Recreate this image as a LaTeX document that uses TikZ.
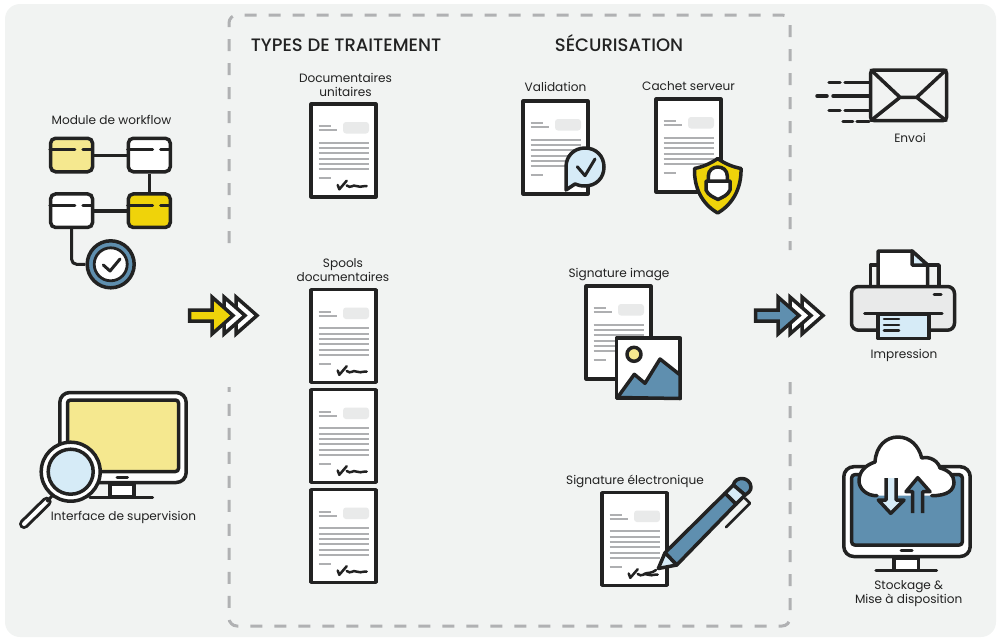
\documentclass[tikz,border=0pt]{standalone}
\usepackage{fontspec}
\setmainfont{Poppins}
\newfontfamily\headfont{Poppins Medium}
\definecolor{inkdark}{HTML}{222222}
\definecolor{panelgrey}{HTML}{F1F3F2}
\definecolor{dashgrey}{HTML}{B0B1B3}
\definecolor{linegrey}{HTML}{AEAFB1}
\definecolor{pillgrey}{HTML}{E9EAEA}
\definecolor{softyellow}{HTML}{F5E88F}
\definecolor{deepyellow}{HTML}{EFD30A}
\definecolor{steelblue}{HTML}{5F8FAF}
\definecolor{paleblue}{HTML}{D6EBF7}
\tikzset{
  ink/.style={draw=inkdark,line width=3.5pt,line join=round},
  caption/.style={font=\fontsize{12.1}{14}\selectfont,text=inkdark,align=center,inner sep=0pt},
  heading/.style={font=\headfont\fontsize{18}{20}\selectfont,text=inkdark,inner sep=0pt,anchor=base},
  wfbox/.style={draw=inkdark,line width=3.5pt,rounded corners=5pt,minimum width=42pt,minimum height=33.5pt,inner sep=0pt},
  wfline/.style={draw=inkdark,line width=3pt},
  docsheet/.pic={
    \draw[ink,fill=white] (1.2,1.2) rectangle (65.8,93.8);
    \draw[linegrey,line width=2pt] (8.7,23) -- (21,23) (8.7,27.3) -- (26.7,27.3) (8.7,75) -- (21,75);
    \foreach \yy in {39.7,45,50.3,55.7,61,66.3}
      \draw[linegrey,line width=2pt] (8.7,\yy) -- (59,\yy);
    \fill[pillgrey,rounded corners=3pt] (33,19) rectangle (59,30.5);
  },
  signeddoc/.pic={
    \pic {docsheet};
    \draw[inkdark,line width=2.5pt,line cap=round,line join=round] (27.7,82) -- (29.3,86.3) -- (36.7,77.7);
    \draw[inkdark,line width=2.5pt,line cap=round] (36.7,82.5) .. controls (41,86) and (43,81) .. (46,83) .. controls (49,85) and (51,83) .. (56.7,83);
  },
  tripletip/.pic={
    \begin{scope}[line join=miter]
    \draw[draw=inkdark,line width=3.5pt,fill=white] (24,-18.5) -- (45,0) -- (24,18.5) -- cycle;
    \draw[draw=inkdark,line width=3.5pt,fill=white] (12,-18.5) -- (33,0) -- (12,18.5) -- cycle;
    \draw[draw=inkdark,line width=3.5pt,fill=\pgfkeysvalueof{/tikz/tipcolor}] (-22.5,-5.5) -- (0,-5.5) -- (0,-18.5) -- (21,0) -- (0,18.5) -- (0,5.5) -- (-22.5,5.5) -- cycle;
    \end{scope}
  },
  tipcolor/.initial=deepyellow
}
\begin{document}
\begin{tikzpicture}[x=1pt,y=-1pt]
  \useasboundingbox (0,0) rectangle (1000,641);
  \fill[panelgrey,rounded corners=15pt] (5,4) rectangle (996,637);

  \draw[dashgrey,line width=3pt,dash pattern=on 12pt off 12pt,rounded corners=8pt]
    (229,243) -- (229,15) -- (790,15) -- (790,250);
  \draw[dashgrey,line width=3pt,dash pattern=on 12pt off 12pt,rounded corners=8pt]
    (790,382) -- (790,626) -- (229,626) -- (229,387);

  \node[heading] (traitement) at (346,51) {TYPES DE TRAITEMENT};
  \node[heading] (securisation) at (619,51) {SÉCURISATION};

  \node[caption] (workflow) at (111.5,119.7) {Module de workflow};
  \node[caption] (supervision) at (123.5,517) {Interface de supervision};
  \node[caption] (unitaires) at (345.5,85) {Documentaires\\unitaires};
  \node[caption] (spools) at (343,270) {Spools\\documentaires};
  \node[caption] (validation) at (555.5,86.5) {Validation};
  \node[caption] (cachet) at (688.5,86.5) {Cachet serveur};
  \node[caption] (sigimage) at (619,274.5) {Signature image};
  \node[caption] (sigelec) at (635,481) {Signature électronique};
  \node[caption] (envoi) at (910,138) {Envoi};
  \node[caption] (impression) at (904,355.5) {Impression};
  \node[caption] (stockage) at (908.7,593.5) {Stockage \&\\Mise à disposition};

  % workflow
  \node[wfbox,fill=softyellow] (wf1) at (71.6,155) {};
  \node[wfbox,fill=white] (wf2) at (149.3,155) {};
  \node[wfbox,fill=white] (wf3) at (71.6,210.7) {};
  \node[wfbox,fill=deepyellow] (wf4) at (149.3,210.7) {};
  \node[circle,draw=inkdark,line width=3.5pt,fill=steelblue,minimum size=47pt,inner sep=0pt] (wfend) at (110.7,264.3) {};
  \node[circle,draw=inkdark,line width=2.8pt,fill=white,minimum size=33pt,inner sep=0pt] (wfcheck) at (110.7,264.3) {};
  \draw[wfline] (wf1) -- (wf2);
  \draw[wfline] (wf2) -- (wf4);
  \draw[wfline,line width=3.6pt] (wf3) -- (wf4);
  \draw[wfline,rounded corners=5pt] (wf3) |- (wfend);
  \foreach \wfname in {wf1,wf2,wf3,wf4}
    \draw[wfline,line cap=round] ([yshift=-13.3pt]\wfname.north west) ++(1,0) -- ++(25,0) ++(8,0) -- ([xshift=-2pt,yshift=-13.3pt]\wfname.north east);
  \draw[inkdark,line width=3pt,line cap=round,line join=round] (103.3,265) -- (110,271) -- (120,259);

  % supervision screen
  \draw[ink,fill=white,rounded corners=10pt] (59.8,392.5) rectangle (186.2,482.5);
  \draw[ink,fill=softyellow,rounded corners=3pt] (67.5,400) rectangle (178.5,471.5);
  \draw[inkdark,line width=3pt,line cap=round] (117,477.5) -- (127.5,477.5);
  \draw[ink,fill=white] (110,484) rectangle (134,497);
  \draw[inkdark,line width=3.2pt,line cap=round] (90,497.5) -- (152.5,497.5);
  \draw[inkdark,line width=10pt,line cap=round] (46.7,501.7) -- (24,524);
  \draw[white,line width=4pt,line cap=round] (46.7,501.7) -- (24,524);
  \draw[inkdark,line width=3pt] (46.7,501.7) -- (52,496);
  \draw[ink,fill=white] (70.7,471.7) circle[radius=29.5];
  \draw[ink,fill=paleblue] (70.7,471.7) circle[radius=22.5];

  % documents
  \pic at (310,103) {signeddoc};
  \pic at (310,288.5) {signeddoc};
  \pic at (310,388.5) {signeddoc};
  \pic at (310,488.5) {signeddoc};
  \pic at (522,100) {docsheet};
  \pic at (655,98) {docsheet};
  \pic at (585,285) {docsheet};
  \pic at (601,491.5) {signeddoc};

  % validation bubble
  \draw[ink,fill=paleblue] (566,190) -- (566,167) .. controls (566,156) and (574,148) .. (585,148)
    .. controls (596,148) and (604,156) .. (604,167) .. controls (604,178) and (596,186) .. (585,186)
    .. controls (580,186) and (578,185) .. (575,184) -- cycle;
  \draw[inkdark,line width=3pt,line cap=round,line join=round] (577.3,166.7) -- (585,175.7) -- (595,159);

  % shield
  \draw[ink,fill=deepyellow] (717.7,158.5) .. controls (710,164) and (702,167) .. (694.5,168.5)
    .. controls (694,188) and (702,204) .. (717.7,213) .. controls (733,204) and (741.5,188) .. (741,168.5)
    .. controls (733.5,167) and (725,164) .. (717.7,158.5) -- cycle;
  \draw[ink,fill=white] (708.3,182) -- (708.3,176) .. controls (708.3,164) and (727.3,164) .. (727.3,176) -- (727.3,182) -- cycle;
  \draw[ink,fill=white] (706,181) -- (730,181) -- (730,190) .. controls (728,195) and (723,197) .. (718,199.5)
    .. controls (713,197) and (708,195) .. (706,190) -- cycle;

  % image signature
  \draw[ink,fill=white] (616.5,338.2) rectangle (680.2,398.5);
  \draw[ink,fill=steelblue] (617.5,397.5) -- (634.3,374.3) -- (645,383.3) -- (660,359) -- (680.2,375) -- (680.2,398.5) -- cycle;
  \draw[ink,fill=softyellow] (634,354.3) circle[radius=7];

  % pen
  \draw[inkdark,line width=2.6pt,line join=round,line cap=round] (745,498.3) -- (750,503.3) -- (726,527.3);
  \draw[ink,fill=steelblue] (733.3,485) .. controls (735,476) and (750,476) .. (751,487) .. controls (751,491) and (748,493) .. (745,495) -- cycle;
  \draw[ink,fill=paleblue] (725,493.3) -- (733.3,485) -- (745,495) -- (736,504) -- cycle;
  \draw[ink,fill=steelblue] (665,552.7) -- (725,493.3) -- (736,504) -- (676.7,565) -- cycle;
  \draw[ink,fill=paleblue] (665,552.7) -- (676.7,565) -- (658.3,568.5) -- cycle;
  \draw[inkdark,line width=2.5pt,line cap=round] (656,570) .. controls (651,574) and (648,572) .. (644,574);

  % envoi
  \draw[ink,rounded corners=3pt] (870.7,70) rectangle (946.5,120.5);
  \draw[inkdark,line width=3.5pt,line cap=round] (871,70) -- (900,97.3) -- (871,120.5) (946,70) -- (916.7,97.3) -- (946,120.5) (900,97.3) -- (916.7,97.3);
  \draw[inkdark,line width=3.5pt,line cap=round]
    (829,82.7) -- (840,82.7) (845,82.7) -- (869,82.7)
    (817,96) -- (827,96) (833,96) -- (869,96)
    (829,110.3) -- (840,110.3) (845,110.3) -- (869,110.3)
    (843,121.7) -- (852.7,121.7) (857,121.7) -- (869,121.7);

  % printer
  \draw[ink,fill=panelgrey] (870.5,285) -- (870.5,265) -- (939,265) -- (939,285);
  \draw[ink,fill=white] (878,285) -- (878,251) -- (912,251) -- (927.5,265) -- (927.5,285);
  \draw[ink,fill=paleblue] (912,251) -- (912,265) -- (927.5,265) -- cycle;
  \draw[ink,fill=pillgrey,rounded corners=7pt] (851.5,286.5) rectangle (954.5,330.2);
  \draw[inkdark,line width=3pt,line cap=round] (864.5,313.3) -- (942,313.3);
  \draw[inkdark,line width=3pt,line cap=round] (934,294.5) -- (941,294.5);
  \draw[ink,fill=paleblue] (878,314) rectangle (929,338.5);
  \draw[inkdark,line width=2.6pt,line cap=round] (884,319) -- (899,319) (884,325) -- (899,325) (884,330.7) -- (899,330.7);

  % storage
  \draw[ink,fill=white,rounded corners=10pt] (843.8,466.7) rectangle (970.2,556.5);
  \draw[ink,fill=steelblue,rounded corners=3pt] (851.7,474.7) rectangle (962.3,545);
  \draw[inkdark,line width=3pt,line cap=round] (901,550.7) -- (912,550.7);
  \draw[ink,fill=white] (894,558) rectangle (918.3,570.7);
  \draw[inkdark,line width=3.2pt,line cap=round] (876,570.7) -- (936.5,570.7);
  \fill[white] (877,495.7) .. controls (866,496) and (859,488) .. (859,481) .. controls (859,471) and (866,465) .. (875,462)
    .. controls (876,446) and (886,437) .. (898,437) .. controls (910,437) and (919,446) .. (921.7,458)
    .. controls (930,456) and (938,461) .. (940,468) .. controls (948,470) and (954,475) .. (954,482)
    .. controls (954,490) and (948,495.7) .. (941.7,495.7) -- cycle;
  \draw[ink,line cap=round] (877,495.7) .. controls (866,496) and (859,488) .. (859,481) .. controls (859,471) and (866,465) .. (875,462)
    .. controls (876,446) and (886,437) .. (898,437) .. controls (910,437) and (919,446) .. (921.7,458)
    .. controls (930,456) and (938,461) .. (940,468) .. controls (948,470) and (954,475) .. (954,482)
    .. controls (954,490) and (948,495.7) .. (931.7,495.7);
  \draw[ink,fill=paleblue] (886,478) -- (886,500) -- (878.3,500) -- (890.7,513.3) -- (904,500) -- (896,500) -- (896,478);
  \draw[ink,fill=steelblue] (912.7,513) -- (912.7,491.7) -- (906,491.7) -- (917.7,477.7) -- (930,491.7) -- (922.7,491.7) -- (922.7,513);

  % arrows
  \pic[tipcolor=deepyellow] at (212,315.5) {tripletip};
  \pic[tipcolor=steelblue] at (778,315.5) {tripletip};
\end{tikzpicture}
\end{document}
